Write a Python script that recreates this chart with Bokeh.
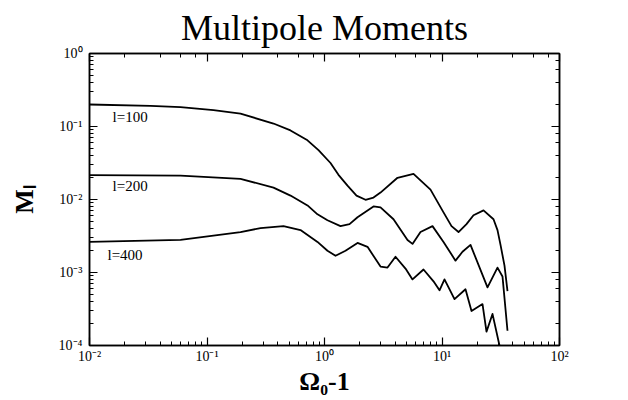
from bokeh.plotting import figure
from bokeh.models import LogAxis, LogTicker, Label
from bokeh.embed import file_html
from bokeh.resources import INLINE

# ---- data ----
x_l100 = [0.01, 0.03304, 0.0595, 0.1136, 0.1928, 0.3681, 0.5135, 0.7167, 0.8890, 1.125,
          1.315, 1.570, 1.872, 2.233, 2.612, 2.997, 4.181, 5.721, 7.982, 10.30,
          12.05, 13.82, 16.16, 18.54, 22.56, 27.44, 29.67, 31.48, 34.03, 36.09]
m_l100 = [0.2001, 0.1922, 0.1845, 0.1671, 0.1498, 0.1098, 0.08830, 0.06467, 0.04739, 0.03162,
          0.02177, 0.01546, 0.01132, 0.00991, 0.01064, 0.01243, 0.01983, 0.02246, 0.01365, 0.006672,
          0.004316, 0.003581, 0.004595, 0.006078, 0.007101, 0.005366, 0.003812, 0.00239, 0.001243, 0.000554]

x_l200 = [0.01, 0.0595, 0.1928, 0.3681, 0.5135, 0.7167, 0.8718, 1.060, 1.368, 1.633,
          1.910, 2.612, 2.997, 3.866, 5.087, 5.609, 6.561, 8.302, 10.30, 13.03,
          14.94, 17.48, 24.39, 29.67, 32.72, 36.09]
m_l200 = [0.02157, 0.02130, 0.01922, 0.01453, 0.01132, 0.008296, 0.006269, 0.005202, 0.004316, 0.004595,
          0.005711, 0.008041, 0.007795, 0.005366, 0.002792, 0.002465, 0.003581, 0.004316, 0.002624, 0.001453,
          0.001922, 0.00239, 0.000627, 0.001168, 0.000883, 0.0001594]

x_l400 = [0.01, 0.0595, 0.1928, 0.2853, 0.4478, 0.6247, 0.8718, 1.060, 1.241, 1.509,
          1.910, 2.323, 2.997, 3.438, 4.021, 4.891, 5.609, 6.960, 8.467, 9.522,
          10.50, 12.78, 15.85, 17.83, 22.12, 23.91, 26.90, 30.85, 32.09]
m_l400 = [0.002624, 0.002792, 0.003581, 0.004056, 0.004316, 0.003812, 0.002624, 0.001983, 0.001697, 0.001983,
          0.002543, 0.002246, 0.001205, 0.001168, 0.001645, 0.001132, 0.000804, 0.001098, 0.000756, 0.000571,
          0.000804, 0.000432, 0.000589, 0.000297, 0.000369, 0.0001546, 0.0002707, 0.0001, 0.0000804]

series_labels = ["l=100", "l=200", "l=400"]
label_x = [0.0157, 0.0157, 0.01422]
label_y = [0.136, 0.01545, 0.00175]

x_ticks = [0.01, 0.1, 1, 10, 100]
x_tick_labels = ["10\u207b\u00b2", "10\u207b\u00b9", "10\u2070", "10\u00b9", "10\u00b2"]
y_ticks = [0.0001, 0.001, 0.01, 0.1, 1]
y_tick_labels = ["10\u207b\u2074", "10\u207b\u00b3", "10\u207b\u00b2", "10\u207b\u00b9", "10\u2070"]

SERIF = "Liberation Serif"

p = figure(width=628, height=400, x_axis_type="log", y_axis_type="log",
           x_range=(0.01, 100), y_range=(0.0001, 1),
           output_backend="svg", toolbar_location=None,
           min_border_left=89, min_border_right=69, min_border_top=49, min_border_bottom=55,
           title="Multipole Moments")
p.title.text_font = SERIF
p.title.text_font_size = "36px"
p.title.text_font_style = "normal"
p.title.text_color = "black"
p.title.align = "center"
p.title.standoff = 11
p.grid.visible = False
p.outline_line_color = "black"
p.outline_line_width = 1.5
p.background_fill_color = "white"
p.border_fill_color = "white"

for xs, ms in [(x_l100, m_l100), (x_l200, m_l200), (x_l400, m_l400)]:
    p.line(xs, ms, line_color="black", line_width=1.8, line_join="round")

for t, lx, ly in zip(series_labels, label_x, label_y):
    p.add_layout(Label(x=lx, y=ly, text=t, text_font=SERIF, text_font_size="15px",
                       text_baseline="middle", text_align="left", text_color="black"))

def style_axis(ax, labels=True):
    ax.axis_line_color = "black"
    ax.axis_line_width = 1.5
    ax.major_tick_in = 8
    ax.major_tick_out = 0
    ax.minor_tick_in = 4
    ax.minor_tick_out = 0
    ax.major_tick_line_color = "black"
    ax.minor_tick_line_color = "black"
    ax.major_tick_line_width = 1.2
    ax.minor_tick_line_width = 1
    if labels:
        ax.major_label_text_font = SERIF
        ax.major_label_text_font_size = "14px"
        ax.major_label_text_color = "black"
    else:
        ax.major_label_text_font_size = "1px"
        ax.major_label_text_alpha = 0
        ax.major_label_standoff = 0

xa = p.xaxis[0]
ya = p.yaxis[0]
style_axis(xa)
style_axis(ya)
xa.major_label_overrides = {v: s for v, s in zip(x_ticks, x_tick_labels)}
ya.major_label_overrides = {v: s for v, s in zip(y_ticks, y_tick_labels)}
xa.major_label_standoff = 3
ya.major_label_standoff = 7

xa.axis_label = "\u03a9\u2080-1"
ya.axis_label = "M\u2097"
for ax in (xa, ya):
    ax.axis_label_text_font = SERIF
    ax.axis_label_text_font_style = "bold"
    ax.axis_label_text_color = "black"
xa.axis_label_text_font_size = "26px"
ya.axis_label_text_font_size = "26px"
xa.axis_label_standoff = 0
ya.axis_label_standoff = 17

top = LogAxis(ticker=LogTicker())
right = LogAxis(ticker=LogTicker())
style_axis(top, labels=False)
style_axis(right, labels=False)
p.add_layout(top, "above")
p.add_layout(right, "right")

open("out.html", "w").write(file_html(p, INLINE))
